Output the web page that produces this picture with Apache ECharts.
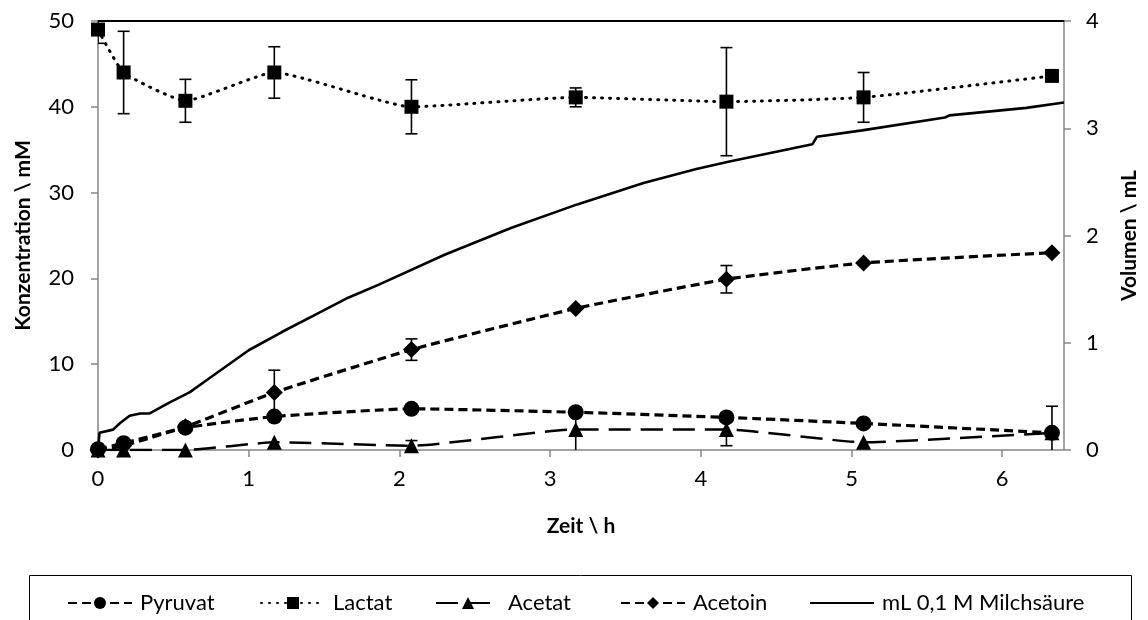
<!DOCTYPE html>
<html>
<head>
<meta charset="utf-8">
<script src="https://cdn.jsdelivr.net/npm/echarts@6/dist/echarts.min.js"></script>
<style>
  html, body { margin: 0; padding: 0; background: #fff; }
  #chart { width: 1148px; height: 620px; }
</style>
</head>
<body>
<div id="chart"></div>
<script>
// Sampling times (h)
const timeH = [0, 0.17, 0.58, 1.17, 2.08, 3.17, 4.17, 5.08, 6.33];

// Concentrations (mM) and standard deviations
const pyruvat    = [0.1, 0.8, 2.6, 3.9, 4.8, 4.4, 3.8, 3.1, 2.0];
const pyruvatErr = [0, 0, 0, 0, 0, 0, 0, 0, 0];
const lactat     = [49.0, 44.0, 40.7, 44.0, 40.0, 41.1, 40.6, 41.1, 43.6];
const lactatErr  = [1.6, 4.8, 2.5, 3.0, 3.15, 1.1, 6.3, 2.9, 0];
const acetat     = [0, 0, 0, 0.9, 0.5, 2.4, 2.4, 0.9, 2.0];
const acetatErr  = [0, 0, 0, 0, 0.6, 2.5, 1.9, 0, 3.1];
const acetoin    = [0, 0.5, 2.7, 6.7, 11.7, 16.5, 19.9, 21.8, 23.0];
const acetoinErr = [0, 0, 0, 2.6, 1.25, 0, 1.6, 0, 0];

// Titrated volume of 0.1 M lactic acid (mL) over time (h)
const titrTime = [0, 0.01, 0.1, 0.145, 0.21, 0.28, 0.34, 0.47, 0.61, 0.72, 1.0, 1.22, 1.44, 1.66, 1.86,
                  2.3, 2.74, 3.18, 3.62, 3.97, 4.19, 4.74, 4.77, 5.07, 5.62, 5.65, 6.16, 6.41];
const titrVol  = [0, 0.16, 0.19, 0.25, 0.32, 0.34, 0.34, 0.44, 0.54, 0.65, 0.93, 1.10, 1.26, 1.42, 1.54,
                  1.82, 2.07, 2.29, 2.49, 2.62, 2.69, 2.85, 2.92, 2.98, 3.10, 3.12, 3.19, 3.24];

// Axis ticks
const xTicks = { min: 0, max: 6.41, interval: 1 };
const concTicks = { min: 0, max: 50, interval: 10 };
const volTicks = { min: 0, max: 4, interval: 1 };

const seriesNames = ['Pyruvat', 'Lactat', 'Acetat', 'Acetoin', 'mL 0,1 M Milchsäure'];

const FONT = 'Lato, "Open Sans", sans-serif';
const GRAY = '#868686';

function pairs(xs, ys) { return xs.map((x, i) => [x, ys[i]]); }

function markerSeries(name, values, symbol, size, lineStyle) {
  return {
    name: name, type: 'line', xAxisIndex: 0, yAxisIndex: 0,
    data: pairs(timeH, values),
    symbol: symbol, symbolSize: size, showSymbol: true,
    smooth: 0.15,
    lineStyle: Object.assign({ color: '#000' }, lineStyle),
    itemStyle: { color: '#000', borderWidth: 0 },
    emphasis: { disabled: true },
    z: 3
  };
}

function errorBars(name, values, errs) {
  const data = [];
  timeH.forEach((t, i) => { if (errs[i]) data.push([t, values[i] - errs[i], values[i] + errs[i]]); });
  return {
    name: name, type: 'custom', xAxisIndex: 0, yAxisIndex: 0,
    clip: true,
    encode: { x: 0, y: [1, 2] },
    data: data,
    z: 2,
    renderItem: function (params, api) {
      const x = api.value(0);
      const lo = api.coord([x, api.value(1)]);
      const hi = api.coord([x, api.value(2)]);
      const half = 6;
      const st = { stroke: '#000', lineWidth: 1.6 };
      return {
        type: 'group',
        children: [
          { type: 'line', shape: { x1: lo[0], y1: lo[1], x2: hi[0], y2: hi[1] }, style: st },
          { type: 'line', shape: { x1: lo[0] - half, y1: lo[1], x2: lo[0] + half, y2: lo[1] }, style: st },
          { type: 'line', shape: { x1: hi[0] - half, y1: hi[1], x2: hi[0] + half, y2: hi[1] }, style: st }
        ]
      };
    }
  };
}

// Legend entries, laid out in one framed row
const legendLeft = [62, 255, 430, 615, 804];
const legends = seriesNames.map((n, i) => ({
  data: [i === 4 ? { name: n, itemStyle: { opacity: 0 } } : n],
  left: legendLeft[i], top: 587,
  itemWidth: 64, itemHeight: 15, itemGap: 0,
  selectedMode: false,
  textStyle: { fontFamily: FONT, fontSize: 22, color: '#000', padding: [0, 0, 0, 3] }
}));

const chart = echarts.init(document.getElementById('chart'), null, { renderer: 'canvas' });

chart.setOption({
  animation: false,
  backgroundColor: '#fff',
  grid: { left: 98, right: 78, top: 21, bottom: 170 },
  legend: legends,
  graphic: [{
    type: 'rect', shape: { x: 29.5, y: 575.5, width: 1102, height: 80 },
    style: { fill: 'none', stroke: '#000', lineWidth: 1 }, z: 0
  }],
  xAxis: [{
    type: 'value', position: 'bottom',
    min: xTicks.min, max: xTicks.max, interval: xTicks.interval,
    axisLine: { show: true, onZero: false, lineStyle: { color: GRAY, width: 1.5 } },
    axisTick: { show: true, inside: false, length: 7, lineStyle: { color: GRAY, width: 1.5 } },
    axisLabel: { fontFamily: FONT, fontSize: 22, color: '#000', margin: 18, showMaxLabel: false },
    splitLine: { show: false },
    name: 'Zeit \\ h', nameLocation: 'middle', nameGap: 66,
    nameTextStyle: { fontFamily: FONT, fontSize: 21, fontWeight: 'bold', color: '#000' }
  }, {
    type: 'value', position: 'top',
    min: xTicks.min, max: xTicks.max,
    axisLine: { show: true, onZero: false, lineStyle: { color: '#000', width: 2 } },
    axisTick: { show: false }, axisLabel: { show: false }, splitLine: { show: false }
  }],
  yAxis: [{
    type: 'value', position: 'left',
    min: concTicks.min, max: concTicks.max, interval: concTicks.interval,
    axisLine: { show: true, onZero: false, lineStyle: { color: GRAY, width: 1.5 } },
    axisTick: { show: true, inside: false, length: 7, lineStyle: { color: GRAY, width: 1.5 } },
    axisLabel: { fontFamily: FONT, fontSize: 22, color: '#000', margin: 24 },
    splitLine: { show: false },
    name: 'Konzentration \\ mM', nameLocation: 'middle', nameGap: 64, nameRotate: 90,
    nameTextStyle: { fontFamily: FONT, fontSize: 21, fontWeight: 'bold', color: '#000' }
  }, {
    type: 'value', position: 'right',
    min: volTicks.min, max: volTicks.max, interval: volTicks.interval,
    axisLine: { show: true, onZero: false, lineStyle: { color: GRAY, width: 1.5 } },
    axisTick: { show: true, inside: false, length: 7, lineStyle: { color: GRAY, width: 1.5 } },
    axisLabel: { fontFamily: FONT, fontSize: 22, color: '#000', margin: 22 },
    splitLine: { show: false },
    name: 'Volumen \\ mL', nameLocation: 'middle', nameGap: 55, nameRotate: 90,
    nameTextStyle: { fontFamily: FONT, fontSize: 21, fontWeight: 'bold', color: '#000' }
  }],
  series: [
    {
      name: seriesNames[4], type: 'line', xAxisIndex: 0, yAxisIndex: 1,
      data: pairs(titrTime, titrVol),
      symbol: 'none', showSymbol: false, smooth: false,
      lineStyle: { color: '#000', width: 2.6, type: 'solid' },
      itemStyle: { color: '#000' },
      emphasis: { disabled: true }, z: 3
    },
    markerSeries(seriesNames[2], acetat, 'triangle', 15, { width: 2.5, type: [22, 10] }),
    markerSeries(seriesNames[0], pyruvat, 'circle', 16, { width: 3.2, type: [9, 5] }),
    markerSeries(seriesNames[3], acetoin, 'diamond', 17, { width: 3.2, type: [9, 5] }),
    markerSeries(seriesNames[1], lactat, 'rect', 14, { width: 3, type: [1, 7], cap: 'round' }),
    errorBars(seriesNames[1], lactat, lactatErr),
    errorBars(seriesNames[0], pyruvat, pyruvatErr),
    errorBars(seriesNames[2], acetat, acetatErr),
    errorBars(seriesNames[3], acetoin, acetoinErr)
  ]
});
</script>
</body>
</html>
